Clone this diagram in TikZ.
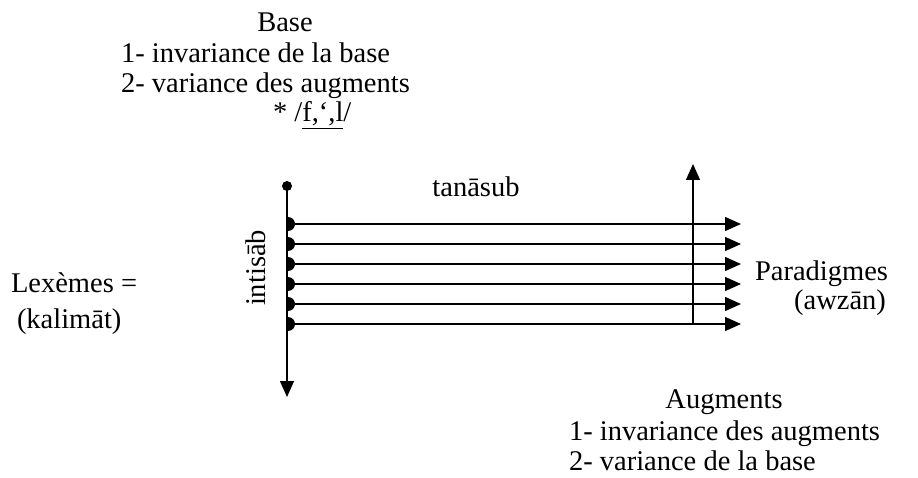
\documentclass[tikz,border=0pt]{standalone}
\usepackage{fontspec}
\setmainfont{Liberation Serif}
\usetikzlibrary{arrows.meta}
\begin{document}
\begin{tikzpicture}[x=1pt,y=-1pt,
  txt/.style={inner sep=0pt,outer sep=0pt,font=\fontsize{28.5}{30}\selectfont},
  arr/.style={line width=1.4pt,-{Triangle[length=16pt,width=14pt]}}]
\useasboundingbox (0,0) rectangle (918,478);
% top block
\node[txt,anchor=base] (base) at (285,32) {Base};
\node[txt,anchor=base west] (b1) at (121,63) {1- invariance de la base};
\node[txt,anchor=base west] (b2) at (121,93) {2- variance des augments};
\node[txt,anchor=base west] (b3) at (273,122) {* /\underline{f,‘,l}/};
% labels
\node[txt,anchor=base] (tan) at (476,197) {tanāsub};
\node[txt,anchor=base,rotate=90] (int) at (265,268) {intisāb};
\node[txt,anchor=base west] (lex) at (11,292) {Lexèmes =};
\node[txt,anchor=base west] (kal) at (17,328) {(kalimāt)};
\node[txt,anchor=base west] (par) at (755,280) {Paradigmes};
\node[txt,anchor=base east] (awz) at ([xshift=-2pt]par.base east |- 0,309) {(awzān)};
\node[txt,anchor=base] (aug) at (724,408) {Augments};
\node[txt,anchor=base west] (a1) at (569,440) {1- invariance des augments};
\node[txt,anchor=base west] (a2) at (569,470) {2- variance de la base};
% vertical axis
\coordinate (vtop) at (287,186);
\coordinate (vbot) at (287,397);
\fill (vtop) circle (5);
\draw[arr] (vtop) -- (vbot);
% horizontal arrows
\foreach \i/\y in {1/224,2/244,3/264,4/284,5/304,6/324}{
  \coordinate (s\i) at (288,\y);
  \coordinate (e\i) at (741,\y);
  \fill (288,\y-7) arc (-90:90:7) -- cycle;
  \draw[arr] (s\i) -- (e\i);
}
% vertical arrow on the right
\coordinate (ub) at (693,325);
\coordinate (ut) at (693,164);
\draw[arr] (ub) -- (ut);
\end{tikzpicture}
\end{document}
